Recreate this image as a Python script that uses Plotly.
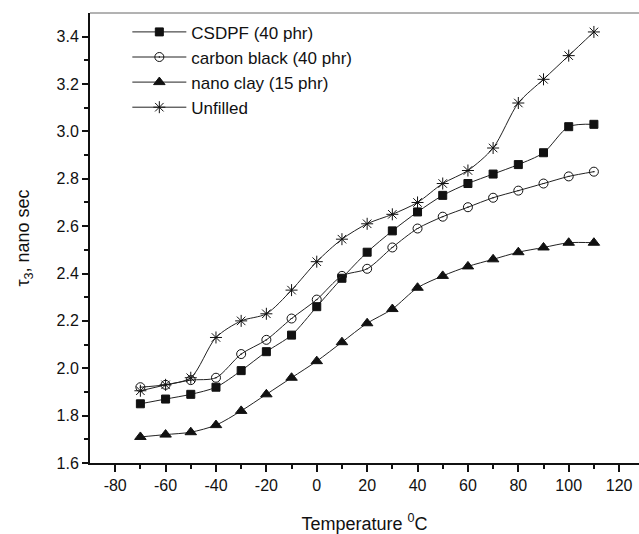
import plotly.graph_objects as go

temps = [-70, -60, -50, -40, -30, -20, -10, 0, 10, 20, 30, 40, 50, 60, 70, 80, 90, 100, 110]
csdpf = [1.85, 1.87, 1.89, 1.92, 1.99, 2.07, 2.14, 2.26, 2.38, 2.49, 2.58, 2.66, 2.73, 2.78, 2.82, 2.86, 2.91, 3.02, 3.03]
carbon_black = [1.92, 1.93, 1.95, 1.96, 2.06, 2.12, 2.21, 2.29, 2.39, 2.42, 2.51, 2.59, 2.64, 2.68, 2.72, 2.75, 2.78, 2.81, 2.83]
nano_clay = [1.71, 1.72, 1.73, 1.76, 1.82, 1.89, 1.96, 2.03, 2.11, 2.19, 2.25, 2.34, 2.39, 2.43, 2.46, 2.49, 2.51, 2.53, 2.53]
unfilled = [1.905, 1.93, 1.96, 2.13, 2.20, 2.23, 2.33, 2.45, 2.545, 2.61, 2.65, 2.70, 2.78, 2.835, 2.93, 3.12, 3.22, 3.32, 3.42]

x_ticks = [-80, -60, -40, -20, 0, 20, 40, 60, 80, 100, 120]
x_tick_labels = ["-80", "-60", "-40", "-20", "0", "20", "40", "60", "80", "100", "120"]
y_ticks = [1.6, 1.8, 2.0, 2.2, 2.4, 2.6, 2.8, 3.0, 3.2, 3.4]
y_tick_labels = ["1.6", "1.8", "2.0", "2.2", "2.4", "2.6", "2.8", "3.0", "3.2", "3.4"]

names = ["CSDPF (40 phr)", "carbon black (40 phr)", "nano clay (15 phr)", "Unfilled"]
series = [csdpf, carbon_black, nano_clay, unfilled]
symbols = ["square", "circle-open-dot", "triangle-up", "asterisk-open"]
sizes = [8, 9, 10, 10]

fig = go.Figure()
for name, ys, sym, sz in zip(names, series, symbols, sizes):
    fig.add_trace(go.Scatter(
        x=temps, y=ys, name=name, mode="lines+markers",
        line=dict(color="#222222", width=1, shape="spline", smoothing=0.8),
        marker=dict(symbol=sym, size=sz, color="#111111",
                    line=dict(color="#111111", width=1)),
    ))

fig.update_layout(
    width=639, height=534,
    margin=dict(l=90, r=0, t=13, b=71),
    paper_bgcolor="white", plot_bgcolor="white",
    font=dict(family="Liberation Sans, Arial, sans-serif", size=16, color="#111111"),
    showlegend=True,
    legend=dict(x=0.068, y=0.997, xanchor="left", yanchor="top",
                bgcolor="rgba(0,0,0,0)", font=dict(size=17), tracegroupgap=0,
                itemwidth=54),
)
fig.update_xaxes(
    range=[-90, 127.9], tickmode="array",
    tickvals=x_ticks, ticktext=x_tick_labels,
    ticks="outside", ticklen=7, tickwidth=1.5, tickcolor="#111111",
    minor=dict(tickvals=[-70, -50, -30, -10, 10, 30, 50, 70, 90, 110], ticks="outside", ticklen=4, tickcolor="#111111"),
    showline=True, linecolor="#111111", linewidth=2, showgrid=False, zeroline=False,
    title=dict(text="Temperature <sup>0</sup>C", font=dict(size=18), standoff=26),
)
fig.update_yaxes(
    range=[1.6, 3.5], tickmode="array",
    tickvals=y_ticks, ticktext=y_tick_labels,
    ticks="outside", ticklen=6, tickwidth=1.5, tickcolor="#111111",
    minor=dict(tickvals=[1.7, 1.9, 2.1, 2.3, 2.5, 2.7, 2.9, 3.1, 3.3], ticks="outside", ticklen=4, tickcolor="#111111"),
    showline=True, linecolor="#111111", linewidth=2, showgrid=False, zeroline=False,
    title=dict(text="τ<sub>3</sub>, nano sec", font=dict(size=18), standoff=22),
)
fig.add_shape(type="line", xref="paper", yref="paper", x0=0, x1=1, y0=1, y1=1,
              line=dict(color="#666666", width=1))

fig.write_html("out.html")
